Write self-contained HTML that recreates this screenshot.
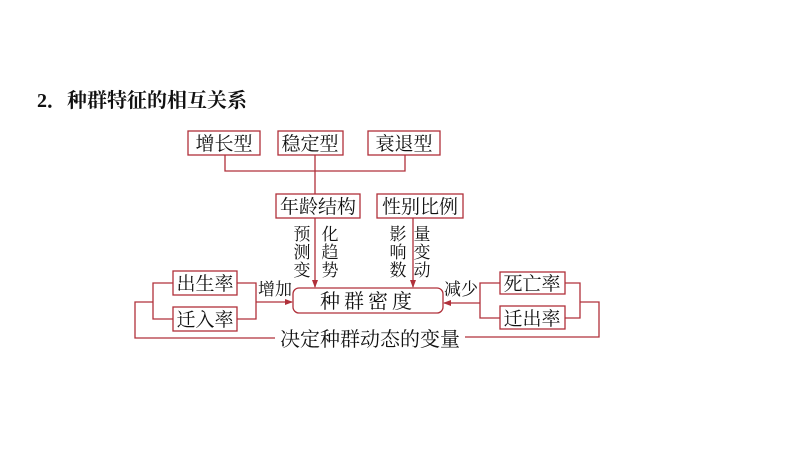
<!DOCTYPE html>
<html><head><meta charset="utf-8"><style>
body{margin:0;background:#fff;}
svg text{font-family:"Liberation Serif","Noto Serif CJK SC",serif;fill:#111;}
</style></head><body>
<svg width="794" height="446" xmlns="http://www.w3.org/2000/svg">
<defs><marker id="a" markerWidth="8" markerHeight="8" refX="7" refY="4" orient="auto" markerUnits="userSpaceOnUse"><path d="M0,1 L8,4 L0,7 Z" fill="#b0303a"/></marker></defs>
<text x="37" y="107" font-size="20" font-weight="bold">2．种群特征的相互关系</text>
<g fill="none" stroke="#b0303a" stroke-width="1.3">
<rect x="188" y="131" width="72" height="24"/>
<rect x="278" y="131" width="65" height="24"/>
<rect x="368" y="131" width="72" height="24"/>
<polyline points="225,155 225,171 405,171 405,155"/>
<line x1="315" y1="155" x2="315" y2="194"/>
<rect x="276" y="194" width="84" height="24"/>
<rect x="377" y="194" width="86" height="24"/>
<line x1="315" y1="218" x2="315" y2="287" marker-end="url(#a)"/>
<line x1="413" y1="218" x2="413" y2="287" marker-end="url(#a)"/>
<rect x="293" y="288" width="150" height="25" rx="6"/>
<rect x="173" y="271" width="64" height="24"/>
<rect x="173" y="307" width="64" height="24"/>
<polyline points="237,283 256,283 256,319 237,319"/>
<line x1="256" y1="302" x2="292" y2="302" marker-end="url(#a)"/>
<polyline points="173,283 153,283 153,319 173,319"/>
<polyline points="153,302 135,302 135,338 275,338"/>
<rect x="500" y="272" width="65" height="22"/>
<rect x="500" y="306" width="65" height="23"/>
<polyline points="565,283 580,283 580,318 565,318"/>
<polyline points="500,283 480,283 480,318 500,318"/>
<line x1="480" y1="303" x2="444" y2="303" marker-end="url(#a)"/>
<polyline points="580,302 599,302 599,337 465,337"/>
</g>
<g font-size="19" text-anchor="middle">
<text x="224" y="150">增长型</text>
<text x="310" y="150">稳定型</text>
<text x="404" y="150">衰退型</text>
<text x="318" y="213">年龄结构</text>
<text x="420" y="213">性别比例</text>
<text x="205" y="290">出生率</text>
<text x="205" y="326">迁入率</text>
<text x="532" y="290">死亡率</text>
<text x="532" y="325">迁出率</text>
<text x="368" y="308" font-size="20" letter-spacing="4">种群密度</text>
<text x="370" y="346" font-size="20">决定种群动态的变量</text>
</g>
<g font-size="17" text-anchor="middle">
<text x="302" y="240">预</text><text x="302" y="258">测</text><text x="302" y="276">变</text>
<text x="330" y="240">化</text><text x="330" y="258">趋</text><text x="330" y="276">势</text>
<text x="398" y="240">影</text><text x="398" y="258">响</text><text x="398" y="276">数</text>
<text x="422" y="240">量</text><text x="422" y="258">变</text><text x="422" y="276">动</text>
<text x="275" y="295">增加</text>
<text x="461" y="295">减少</text>
</g>
</svg>
</body></html>
